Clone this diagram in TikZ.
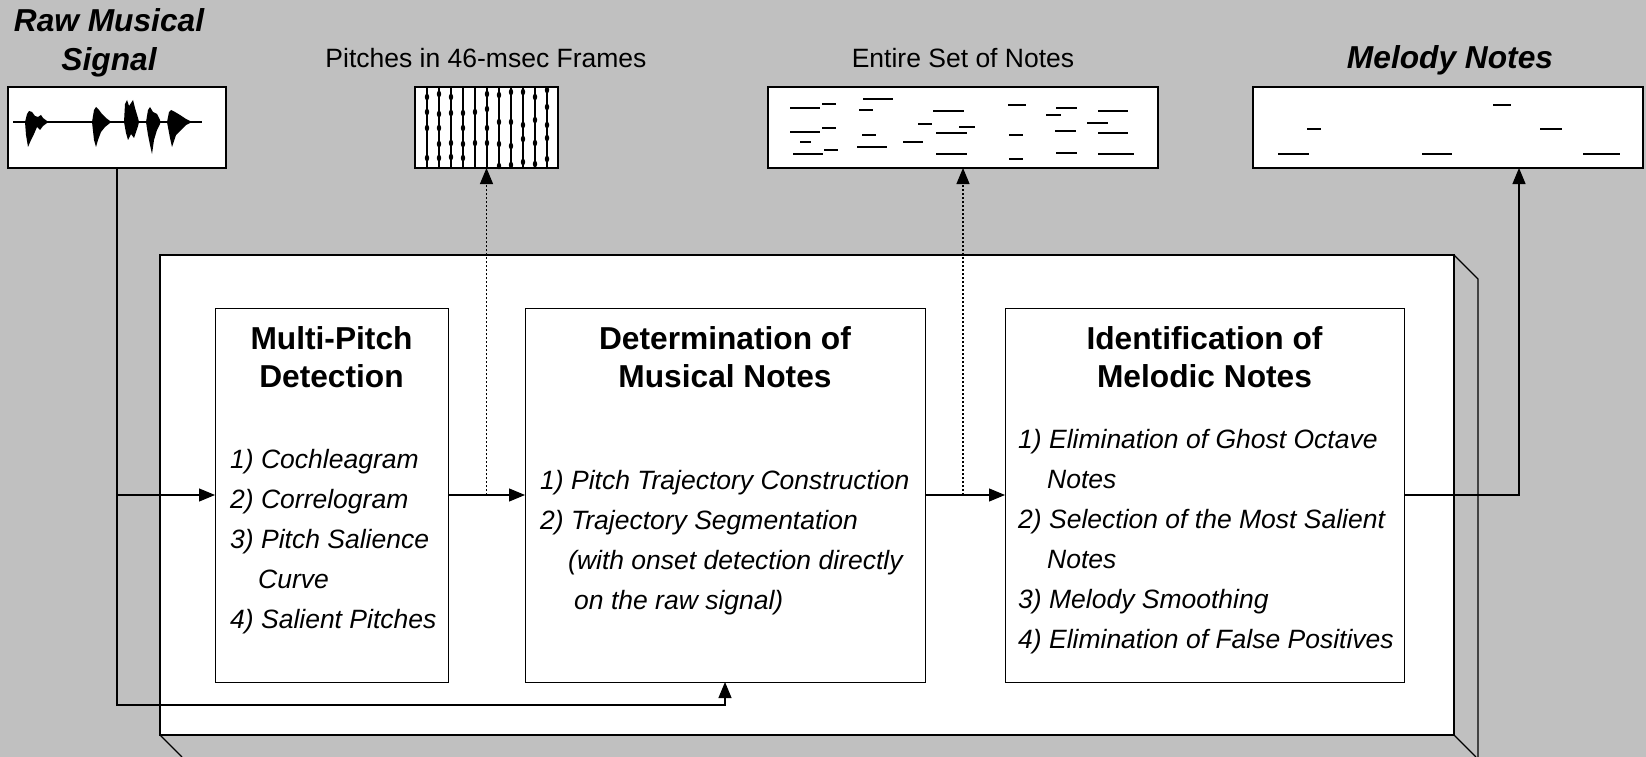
\documentclass[tikz,border=0pt]{standalone}
\usepackage{fontspec}
\setmainfont{Liberation Sans}
\usetikzlibrary{arrows.meta}
\definecolor{bg}{RGB}{192,192,192}
\tikzset{
  panel/.style={draw, fill=white, line width=1.2pt, inner sep=0pt, outer sep=0pt, minimum height=81pt},
  stage/.style={draw, fill=white, line width=1pt, inner sep=0pt, outer sep=0pt, minimum height=374pt},
  conn/.style={line width=1.1pt, -{Triangle[length=16pt,width=13pt]}},
  dots/.style={conn, dash pattern=on 2pt off 2pt},
  seg/.style={line width=2.6pt},
  ttl/.style={align=center, font=\fontsize{31.7}{38}\selectfont\bfseries},
  ttlit/.style={align=center, font=\fontsize{31.7}{39}\selectfont\bfseries\itshape},
  lbl/.style={font=\fontsize{26.5}{32}\selectfont},
  items/.style={align=left, anchor=north west, inner sep=0pt, font=\fontsize{26.5}{40}\selectfont\itshape},
}
\begin{document}
\begin{tikzpicture}[x=1pt, y=-1pt]
  \useasboundingbox[fill=bg] (0,0) rectangle (1646,757);
  % Caja 3D
  \draw[fill=white, line width=1.2pt] (160,255) rectangle (1454,735);
  \draw[line width=1.2pt] (1454,255) -- (1478,279) -- (1478,757);
  \draw[line width=1.2pt] (160,735) -- (182,757);
  \draw[line width=1.2pt] (1454,735) -- (1476,757);
  % Paneles de arriba
  \node[panel, minimum width=218pt] (raw) at (117,127.5) {};
  \node[panel, minimum width=143pt] (pitch) at (486.5,127.5) {};
  \node[panel, minimum width=390pt] (notes) at (963,127.5) {};
  \node[panel, minimum width=390pt] (melody) at (1448,127.5) {};
  \node[ttlit] (rawlbl) at (109,43) {Raw Musical\\Signal};
  \node[lbl] (pitchlbl) at (486,58) {Pitches in 46-msec Frames};
  \node[lbl] (noteslbl) at (963,58) {Entire Set of Notes};
  \node[ttlit] (melodylbl) at (1450,60) {Melody Notes};
  % Senal
  \draw[line width=1.2pt] (13,122) -- (202,122);
  \fill (25,122) -- (27,114) -- (29,111) -- (32,112) -- (35,116) -- (38,117) -- (41,115) -- (43,118) -- (47,121)
    -- (47,123) -- (43,126) -- (40,130) -- (37,127) -- (34,134) -- (31,140) -- (28,147) -- (26,135) -- cycle;
  \fill (92,122) -- (94,110) -- (96,107) -- (99,110) -- (102,114) -- (106,118) -- (110,121)
    -- (110,123) -- (105,127) -- (101,132) -- (98,140) -- (96,147) -- (94,140) -- cycle;
  \fill (124,122) -- (125,104) -- (127,100) -- (129,106) -- (131,103) -- (133,100) -- (135,108) -- (138,118) -- (139,122)
    -- (138,126) -- (136,132) -- (134,138) -- (131,134) -- (128,140) -- (126,133) -- cycle;
  \fill (146,122) -- (148,110) -- (150,107) -- (153,112) -- (157,114) -- (160,120)
    -- (160,124) -- (157,130) -- (154,140) -- (152,154) -- (150,145) -- (148,135) -- cycle;
  \fill (167,122) -- (169,112) -- (171,110) -- (175,112) -- (180,115) -- (186,119) -- (192,122)
    -- (186,125) -- (181,130) -- (176,135) -- (172,147) -- (170,138) -- cycle;
  % Tramas de pitch
  \foreach \x/\ys in {427/{97,112,128,158}, 439/{94,114,128,144,158}, 451/{97,113,143,157},
      463/{113,128,144,158}, 475/{112,143}, 487/{94,109,128,143}, 499/{95,122,144,166},
      511/{92,122,146,165}, 523/{92,125,139,162}, 535/{97,120,143,164}, 547/{90,107,125,138,159}} {
    \draw[line width=1.1pt] (\x,87) -- (\x,168);
    \foreach \y in \ys {\fill (\x,\y) ellipse (2.2pt and 3.3pt);}
  }
  % Notas
  \foreach \a/\b/\y in {790/820/108, 822/836/104, 863/893/99, 859/873/110, 790/820/132, 822/836/128,
      800/811/142, 793/823/154, 824/838/150, 862/876/135, 857/887/147, 933/964/111, 918/932/124,
      959/975/127, 936/967/133, 903/923/142, 936/967/154, 1008/1026/105, 1009/1023/135,
      1009/1023/159, 1056/1077/108, 1046/1061/115, 1087/1108/123, 1055/1076/131, 1056/1077/153,
      1098/1128/111, 1098/1128/133, 1098/1134/154}
    \draw[seg] (\a,\y) -- (\b,\y);
  \foreach \a/\b/\y in {1278/1309/154, 1307/1321/129, 1422/1452/154, 1493/1511/105, 1540/1562/129, 1583/1620/154}
    \draw[seg] (\a,\y) -- (\b,\y);
  % Etapas
  \node[stage, minimum width=233pt] (mp) at (331.5,495) {};
  \node[stage, minimum width=400pt] (det) at (725,495) {};
  \node[stage, minimum width=399pt] (ident) at (1204.5,495) {};
  \node[ttl] (mptitle) at (331.5,357) {Multi-Pitch\\Detection};
  \node[ttl] (dettitle) at (725,357) {Determination of\\Musical Notes};
  \node[ttl] (idtitle) at (1204.5,357) {Identification of\\Melodic Notes};
  \node[items] (mpitems) at (230,449) {1) Cochleagram\\2) Correlogram\\3) Pitch Salience\\\hspace*{28pt}Curve\\4) Salient Pitches};
  \node[items] (detitems) at (540,470) {1) Pitch Trajectory Construction\\2) Trajectory Segmentation\\\hspace*{28pt}(with onset detection directly\\\hspace*{34pt}on the raw signal)};
  \node[items] (iditems) at (1018,429) {1) Elimination of Ghost Octave\\\hspace*{29pt}Notes\\2) Selection of the Most Salient\\\hspace*{29pt}Notes\\3) Melody Smoothing\\4) Elimination of False Positives};
  % Flechas
  \coordinate (low) at (117,705);
  \draw[conn] (raw.south) |- (mp.west);
  \draw[conn] (raw.south) -- (low) -| (det.south);
  \draw[conn] (mp.east) -- (det.west);
  \draw[conn] (det.east) -- (ident.west);
  \draw[dots] (pitch.south |- mp.east) -- (pitch.south);
  \draw[dots] (notes.south |- det.east) -- (notes.south);
  \draw[conn] (ident.east) -| ([xshift=71pt]melody.south);
\end{tikzpicture}
\end{document}
